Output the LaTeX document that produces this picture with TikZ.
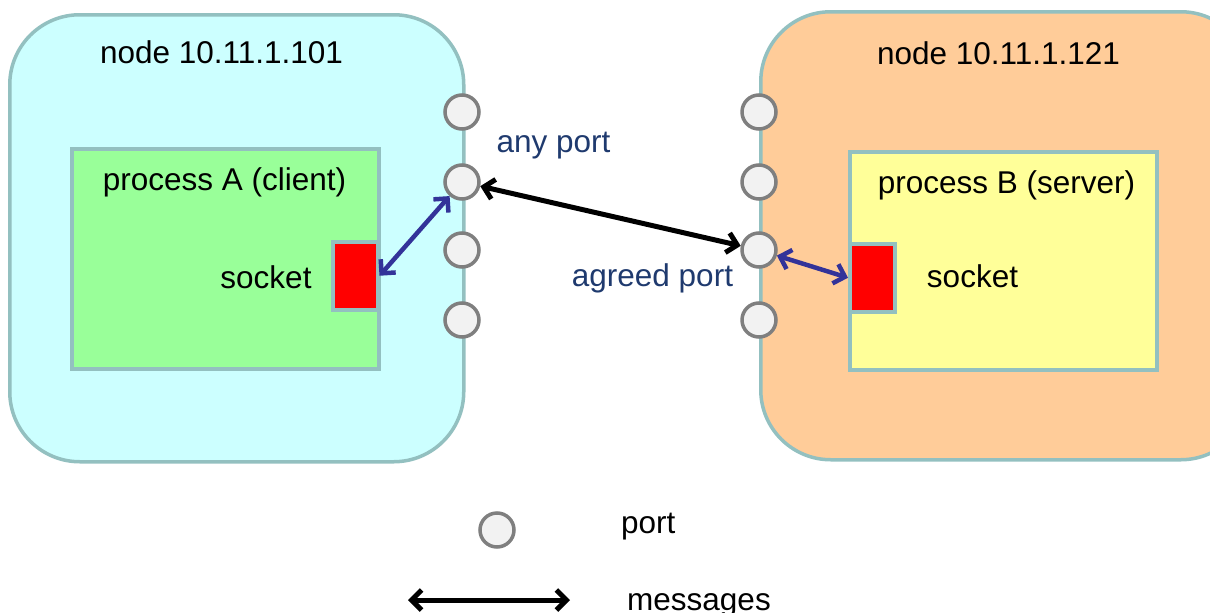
\documentclass[tikz,border=0pt]{standalone}
\usepackage{fontspec}
\setmainfont{Liberation Sans}
\usetikzlibrary{arrows.meta}
\definecolor{cyanfill}{HTML}{CCFFFF}
\definecolor{orangefill}{HTML}{FFCC99}
\definecolor{greenfill}{HTML}{99FF99}
\definecolor{yellowfill}{HTML}{FFFF99}
\definecolor{edgecol}{HTML}{93C0C0}
\definecolor{portfill}{HTML}{F2F2F2}
\definecolor{portedge}{HTML}{7F7F7F}
\definecolor{navytext}{HTML}{1F3A6E}
\definecolor{msgblue}{HTML}{333399}
\definecolor{sockred}{HTML}{FF0000}
\tikzset{
  hostbox/.style={draw=edgecol, line width=3.5pt, rounded corners=70pt, anchor=north west, inner sep=0pt},
  procbox/.style={draw=edgecol, line width=3.5pt, anchor=north west, inner sep=0pt},
  sockbox/.style={draw=edgecol, fill=sockred, line width=3.5pt, anchor=north west, inner sep=0pt, minimum width=45pt, minimum height=68pt},
  port/.style={circle, draw=portedge, fill=portfill, line width=3.5pt, minimum size=34pt, inner sep=0pt},
  lbl/.style={font=\fontsize{31.5pt}{36pt}\selectfont, inner sep=0pt},
  bluelbl/.style={lbl, text=navytext},
  msg/.style={{Straight Barb[length=10pt,width=20pt]}-{Straight Barb[length=10pt,width=20pt]}, line width=5pt},
  bluemsg/.style={msg, draw=msgblue, line width=4.5pt}
}
\begin{document}
\begin{tikzpicture}[x=1pt,y=-1pt]
\useasboundingbox (0,0) rectangle (1210,613);
\clip (0,0) rectangle (1210,613);
% hosts
\node[hostbox, fill=cyanfill, minimum width=454pt, minimum height=447pt] (hostA) at (8,13) {};
\node[hostbox, fill=orangefill, minimum width=490pt, minimum height=448pt] (hostB) at (759,10) {};
\node[lbl, anchor=base] (titleA) at (221.5,63) {node 10.11.1.101};
\node[lbl, anchor=base] (titleB) at (998.5,64) {node 10.11.1.121};
% processes
\node[procbox, fill=greenfill, minimum width=307pt, minimum height=220pt] (procA) at (70,147) {};
\node[procbox, fill=yellowfill, minimum width=307pt, minimum height=218pt] (procB) at (848,150) {};
\node[lbl, anchor=base] (procAlbl) at (224.5,190) {process A (client)};
\node[lbl, anchor=base] (procBlbl) at (1006.5,193) {process B (server)};
% sockets
\node[sockbox] (sockA) at (331,240) {};
\node[sockbox] (sockB) at (848,242) {};
\node[lbl, anchor=base] (sockAlbl) at (266,288) {socket};
\node[lbl, anchor=base] (sockBlbl) at (972.5,287) {socket};
% ports
\foreach \i/\y in {1/112,2/182,3/250,4/320}{
  \node[port] (pA\i) at (462,\y) {};
  \node[port] (pB\i) at (759,\y) {};
}
% labels
\node[bluelbl, anchor=base] (anyport) at (553.5,152) {any port};
\node[bluelbl, anchor=base] (agreed) at (652.5,286) {agreed port};
% messages
\draw[msg] (pA2) -- (pB3);
\draw[bluemsg] (sockA.east) -- (pA2);
\draw[bluemsg] (pB3) -- (sockB.west);
% legend
\node[port] (legport) at (497,530) {};
\node[lbl, anchor=base west] (legportlbl) at (621,533) {port};
\coordinate (m1) at (408,600);
\coordinate (m2) at (570,600);
\draw[msg] (m1) -- (m2);
\node[lbl, anchor=base west] (legmsg) at (627,610) {messages};
\end{tikzpicture}
\end{document}
